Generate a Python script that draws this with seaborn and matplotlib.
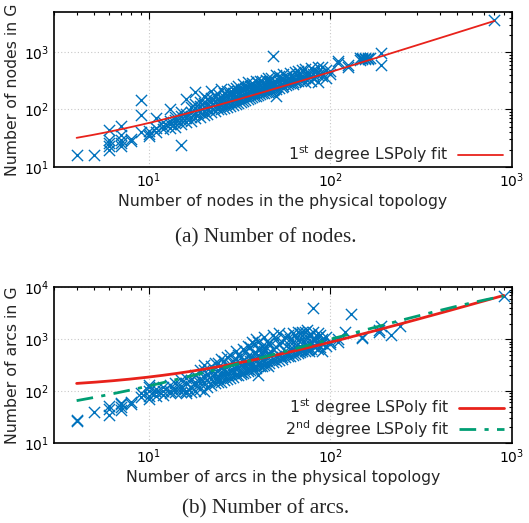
import numpy as np
import pandas as pd
import matplotlib
matplotlib.use("Agg")
import matplotlib.pyplot as plt
from matplotlib.ticker import LogLocator, NullFormatter
import seaborn as sns

# ---- (a) nodes: physical topology size, and the G sizes observed for it ----
phys_nodes = [4, 5, 6, 7, 8, 9, 10, 11, 12, 13, 14, 15, 16, 17, 18, 19, 20,
              21, 22, 23, 24, 25, 26, 27, 28, 29, 30, 31, 32, 33, 34, 35, 36,
              37, 38, 39, 40, 41, 42, 43, 44, 45, 46, 47, 48, 49, 50, 52, 54,
              55, 57, 58, 60, 62, 64, 66, 68, 70, 72, 75, 78, 80, 85, 90, 95,
              100, 110, 125, 145, 150, 155, 160, 165, 190, 800]
g_nodes = [[16], [16], [20, 23, 26, 29, 44], [23, 26, 29, 36, 52], [28, 31],
           [40, 80, 145], [35, 38, 42], [40, 48, 72], [45, 52, 60],
           [48, 55, 62, 100], [50, 58, 66, 75], [24, 55, 65, 78, 92],
           [60, 70, 84, 150], [62, 75, 90, 110], [70, 85, 105, 125, 200],
           [75, 90, 115, 135], [80, 95, 110, 130, 175], [85, 100, 125, 150],
           [90, 110, 135, 160, 210], [95, 115, 140, 170], [100, 120, 150, 185],
           [100, 125, 140, 160, 230], [105, 130, 165, 190], [110, 135, 170, 210],
           [115, 140, 180, 200], [120, 150, 190, 230], [125, 155, 175, 200, 240],
           [130, 160, 210, 260], [135, 170, 220], [140, 175, 230, 280],
           [145, 180, 240], [150, 190, 250, 300], [160, 200, 260],
           [165, 210, 290], [170, 205, 270], [175, 215, 320],
           [180, 220, 250, 290], [185, 230, 310], [190, 235, 320],
           [195, 240, 280], [200, 250, 330], [205, 260, 300, 350],
           [210, 245, 320], [215, 270, 360], [220, 280, 850], [225, 290],
           [170, 230, 250, 300, 400], [240, 310, 380], [250, 280, 350],
           [260, 330, 420], [270, 310, 380], [280, 300, 350],
           [290, 340, 430], [280, 300, 360], [310, 330, 450],
           [320, 380, 460], [330, 350, 420], [340, 390, 480],
           [300, 360, 500], [350, 400, 440], [320, 380, 520],
           [360, 420, 480], [300, 400, 450, 540], [380, 430, 560],
           [350, 480], [420, 460], [650, 700], [550, 600], [740, 780],
           [750, 800], [760, 800], [770, 800], [790], [600, 950], [3600]]
# first-degree least-squares polynomial: y = c0 + c1 * x
fit1_nodes = [14.6, 4.36]

# ---- (b) arcs: physical topology size, and the G sizes observed for it ----
phys_arcs = [4, 5, 6, 7, 8, 9, 10, 11, 12, 13, 14, 15, 16, 17, 18, 19, 20,
             21, 22, 23, 24, 25, 26, 27, 28, 29, 30, 31, 32, 33, 34, 35, 36,
             37, 38, 39, 40, 41, 42, 43, 44, 45, 46, 48, 50, 52, 54, 56, 58,
             60, 62, 64, 66, 68, 70, 72, 74, 76, 78, 80, 82, 85, 88, 90, 95,
             100, 110, 120, 130, 150, 185, 190, 215, 240, 900]
g_arcs = [[26, 28], [40], [35, 45, 52], [42, 50, 55, 58], [55, 60], [75, 90],
          [70, 80, 100, 120, 130], [80, 95, 110], [85, 100, 120], [90, 100, 130],
          [95, 110, 140], [95, 110, 125, 160], [90, 100, 140, 180],
          [95, 120, 160], [100, 130, 150, 200], [110, 140, 170, 250],
          [100, 150, 190, 250, 320], [120, 160, 210], [130, 170, 230, 300],
          [140, 180, 220, 350], [150, 190, 250, 350], [150, 200, 280, 420],
          [160, 210, 260, 380], [170, 220, 300, 450], [180, 240, 330, 500],
          [190, 250, 380], [200, 260, 300, 420, 600], [200, 280, 500],
          [210, 230, 320, 450], [220, 300, 400, 650], [230, 330, 600],
          [240, 260, 350, 480, 750], [250, 380, 700], [260, 320, 450, 900],
          [270, 400, 550, 800], [280, 300, 420, 1000], [200, 350, 500, 650, 900],
          [300, 450, 650], [310, 400, 520, 750], [320, 380, 600, 1100],
          [330, 460, 700], [300, 550, 850], [350, 500, 850],
          [360, 420, 650, 1200], [380, 480, 700, 1000], [400, 500, 800, 1300],
          [420, 450, 900], [450, 600, 1100], [470, 550, 800, 1200],
          [480, 650, 1000], [500, 900, 1300], [520, 700, 1200],
          [540, 600, 950, 1400], [560, 750, 1300], [580, 650, 1000, 1400],
          [600, 800, 1400], [620, 700, 1100, 1500], [600, 640, 850, 1200],
          [660, 900, 1200], [750, 1000, 1400, 4000], [700, 950, 1000],
          [650, 800, 1100, 1300], [700, 900, 1200], [600, 850, 1000],
          [750, 1100], [800, 900], [900, 1000], [1350], [3100], [1050, 1100],
          [1400, 1500], [1800], [1200], [1800], [6700]]
# least-squares polynomials: y = c0 + c1 * x (+ c2 * x^2)
fit1_arcs = [109.0, 7.66]
fit2_arcs = [24.9, 10.03, -0.00278]

BLUE = "#0072BD"
RED = "#E8221B"
GREEN = "#009E73"
FS = 11.3

sns.set_style("white")
plt.rcParams.update({
    "font.family": ["DejaVu Sans"],
    "font.size": FS,
    "axes.linewidth": 1.2,
    "axes.edgecolor": "black",
    "xtick.direction": "in",
    "ytick.direction": "in",
    "xtick.top": True,
    "ytick.right": True,
    "xtick.major.size": 5,
    "ytick.major.size": 5,
    "xtick.minor.size": 2.5,
    "ytick.minor.size": 2.5,
    "xtick.minor.visible": True,
    "ytick.minor.visible": True,
    "xtick.color": "black",
    "ytick.color": "black",
    "xtick.labelsize": 10,
    "ytick.labelsize": 10,
})


def expand(xs, groups):
    """Pair each x with every y listed for it."""
    px, py = [], []
    for x, ys in zip(xs, groups):
        px.extend([x] * len(ys))
        py.extend(ys)
    return pd.DataFrame({"phys": px, "g": py})


def poly(coefs, x):
    return sum(c * x ** k for k, c in enumerate(coefs))


def style_axes(ax, ylim):
    ax.set_xscale("log")
    ax.set_yscale("log")
    ax.set_xlim(3, 1000)
    ax.set_ylim(*ylim)
    for axis in (ax.xaxis, ax.yaxis):
        axis.set_major_locator(LogLocator(base=10, numticks=10))
        axis.set_minor_locator(LogLocator(base=10, subs=np.arange(2, 10), numticks=20))
        axis.set_minor_formatter(NullFormatter())
    ax.grid(True, which="major", color="#c8c8c8", linestyle=(0, (1, 2)), linewidth=0.8)
    ax.set_axisbelow(True)
    ax.tick_params(which="both", width=0.8)


fig = plt.figure(figsize=(5.29, 5.23), dpi=100)
ax1 = fig.add_axes([0.102, 0.681, 0.866, 0.296])
ax2 = fig.add_axes([0.102, 0.1535, 0.866, 0.297])

# (a)
sns.scatterplot(data=expand(phys_nodes, g_nodes), x="phys", y="g", marker="x", s=65,
                color=BLUE, linewidth=1.0, ax=ax1, legend=False, zorder=2)
xs = np.logspace(np.log10(4), np.log10(800), 200)
sns.lineplot(x=xs, y=poly(fit1_nodes, xs), color=RED, linewidth=1.3, ax=ax1,
             label=r"1$^{\mathrm{st}}$ degree LSPoly fit", zorder=3)
style_axes(ax1, (10, 5000))
ax1.set_xlabel("Number of nodes in the physical topology", labelpad=3)
ax1.set_ylabel("Number of nodes in G", labelpad=3)
ax1.legend(loc="lower right", bbox_to_anchor=(1.0, -0.045), frameon=False,
           markerfirst=False, handlelength=2.9, fontsize=FS, borderaxespad=0.15,
           handletextpad=0.6)

# (b)
sns.scatterplot(data=expand(phys_arcs, g_arcs), x="phys", y="g", marker="x", s=65,
                color=BLUE, linewidth=1.0, ax=ax2, legend=False, zorder=2)
xs = np.logspace(np.log10(4), np.log10(900), 200)
sns.lineplot(x=xs, y=poly(fit1_arcs, xs), color=RED, linewidth=2.0, ax=ax2,
             label=r"1$^{\mathrm{st}}$ degree LSPoly fit", zorder=3)
sns.lineplot(x=xs, y=poly(fit2_arcs, xs), color=GREEN, linewidth=2.0, ax=ax2,
             linestyle=(0, (6, 3, 1.5, 3)),
             label=r"2$^{\mathrm{nd}}$ degree LSPoly fit", zorder=3)
style_axes(ax2, (10, 10000))
ax2.set_xlabel("Number of arcs in the physical topology", labelpad=3)
ax2.set_ylabel("Number of arcs in G", labelpad=3)
ax2.legend(loc="lower right", bbox_to_anchor=(1.0, -0.032), frameon=False,
           markerfirst=False, handlelength=2.9, fontsize=FS, borderaxespad=0.1,
           labelspacing=0.0, handletextpad=0.6)

fig.text(0.502, 1 - 238 / 523, "(a) Number of nodes.", ha="center", va="center",
         family="Liberation Serif", fontsize=15.3)
fig.text(0.502, 1 - 509 / 523, "(b) Number of arcs.", ha="center", va="center",
         family="Liberation Serif", fontsize=15.3)

fig.savefig("out.png", dpi=100)
